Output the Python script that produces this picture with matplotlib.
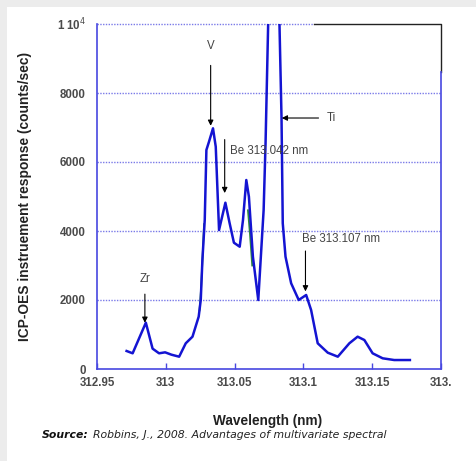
import matplotlib
matplotlib.use("Agg")
import matplotlib.pyplot as plt
from matplotlib.patches import Rectangle
from matplotlib.font_manager import FontProperties
import numpy as np

# ---- data ----
wavelength = [312.9715, 312.9759, 312.9855, 312.9904, 312.9951, 312.9995, 313.0041, 313.0097,
              313.0145, 313.0194, 313.0239, 313.0254, 313.0266, 313.0283, 313.0295, 313.0314,
              313.0343, 313.0363, 313.0387, 313.0433, 313.0464, 313.0495, 313.0537, 313.0561,
              313.0585, 313.0604, 313.0633, 313.0672, 313.0711, 313.0725, 313.0785, 313.0841,
              313.0850, 313.0870, 313.0911, 313.0966, 313.1020, 313.1056, 313.1104, 313.1177,
              313.1250, 313.1334, 313.1394, 313.1443, 313.1503, 313.1576, 313.1660, 313.1774]
response = [522, 455, 1342, 590, 455, 483, 415, 357,
            745, 937, 1517, 2000, 3159, 4319, 6348, 6589,
            6976, 6443, 4029, 4820, 4223, 3661, 3545, 4319,
            5478, 4994, 3255, 2000, 4609, 6550, 17500, 7275,
            4223, 3255, 2484, 2000, 2145, 1710, 745, 473,
            357, 745, 937, 840, 455, 310, 260, 260]

# faint second (green) trace, mostly hidden beneath the blue one
green_wl = [313.0245, 313.0256, 313.0268, 313.0278, np.nan, 313.0597, 313.0612, 313.0628]
green_resp = [1700, 2300, 3300, 4200, np.nan, 4600, 3900, 3000]

yticks = [0, 2000, 4000, 6000, 8000, 10000]
ytick_labels = ["0", "2000", "4000", "6000", "8000", "1 10$^4$"]
xticks = [312.95, 313.0, 313.05, 313.1, 313.15, 313.2]
xtick_labels = ["312.95", "313", "313.05", "313.1", "313.15", "313."]

# annotations: (label, text x, text y, arrow start, arrow end, ha)
annotations = [
    ("V", 313.0326, 9360, (313.0326, 8800), (313.0326, 7050), "center"),
    ("Be 313.042 nm", 313.0470, 6320, (313.0428, 6650), (313.0428, 5100), "left"),
    ("Ti", 313.1170, 7275, (313.1110, 7275), (313.0843, 7275), "left"),
    ("Be 313.107 nm", 313.0993, 3770, (313.1015, 3420), (313.1015, 2250), "left"),
    ("Zr", 312.9848, 2620, (312.9848, 2170), (312.9848, 1340), "center"),
]

W, H = 476, 461
fig = plt.figure(figsize=(W / 100, H / 100), dpi=100)
fig.patch.set_facecolor("#ececec")
fig.patches.append(Rectangle((7 / W, 0), 1 - 7 / W, 1 - 7 / H, transform=fig.transFigure,
                             facecolor="white", edgecolor="none", zorder=-10))

ax = fig.add_axes([97 / W, 1 - 369 / H, (441 - 97) / W, (369 - 24) / H])
ax.set_facecolor("white")
ax.set_xlim(312.95, 313.2)
ax.set_ylim(0, 10000)

spine_col = "#4747e0"
grid_col = "#7a7ae8"
for s in ["left", "bottom", "right"]:
    ax.spines[s].set_color(spine_col)
    ax.spines[s].set_linewidth(1.2)
ax.spines["top"].set_visible(False)
ax.spines["right"].set_bounds(0, 8600)

for yv in yticks[1:]:
    if yv == 10000:
        ax.plot([0, 0.63], [1, 1], transform=ax.transAxes, color=grid_col, lw=1.0,
                ls=(0, (1, 1)), clip_on=False, zorder=1)
    else:
        ax.axhline(yv, color=grid_col, lw=1.0, ls=(0, (1, 1)), zorder=1)
# black frame piece at top right
ax.plot([0.63, 1, 1], [1, 1, 0.86], transform=ax.transAxes, color="#222222", lw=1.0,
        clip_on=False, zorder=1)

ax.plot(green_wl, green_resp, color="#2e8b3a", lw=1.3, zorder=2)
ax.plot(wavelength, response, color="#1414d2", lw=1.8, zorder=3, solid_joinstyle="round")

ax.set_yticks(yticks)
ax.set_yticklabels(ytick_labels)
ax.set_xticks(xticks)
ax.set_xticklabels(xtick_labels)
for t in ax.get_xticklabels() + ax.get_yticklabels():
    t.set_fontproperties(FontProperties(family="Liberation Sans", weight="bold", size=8.3))
    t.set_color("#4a4a4a")
ax.tick_params(axis="x", direction="in", length=4, width=1, color=spine_col, pad=6)
ax.tick_params(axis="y", length=0, pad=8)

ax.set_ylabel("ICP-OES instruement response (counts/sec)", family="Liberation Sans",
              weight="bold", size=9.9, color="#222222")
ax.yaxis.set_label_coords(-0.19, 0.5)
ax.set_xlabel("Wavelength (nm)", family="Liberation Sans", weight="bold", size=9.8,
              color="#222222")
ax.xaxis.set_label_coords(0.497, -0.13)

for label, tx, ty, a0, a1, ha in annotations:
    ax.text(tx, ty, label, ha=ha, va="center", family="Liberation Sans", size=8.3,
            color="#444444", zorder=5)
    ax.annotate("", xy=a1, xytext=a0,
                arrowprops=dict(arrowstyle="-|>", color="black", lw=0.8,
                                mutation_scale=8, shrinkA=0, shrinkB=0), zorder=5)

src_bold = fig.text(42 / W, 1 - 435 / H, "Source:", family="DejaVu Sans", weight="bold",
                    style="italic", size=7.8, color="#111111", va="center")
fig.canvas.draw()
bb = src_bold.get_window_extent(renderer=fig.canvas.get_renderer())
fig.text(bb.x1 / W + 4 / W, 1 - 435 / H, "Robbins, J., 2008. Advantages of multivariate spectral",
         family="DejaVu Sans", style="italic", size=7.8, color="#222222", va="center")

fig.savefig("out.png", dpi=100)
